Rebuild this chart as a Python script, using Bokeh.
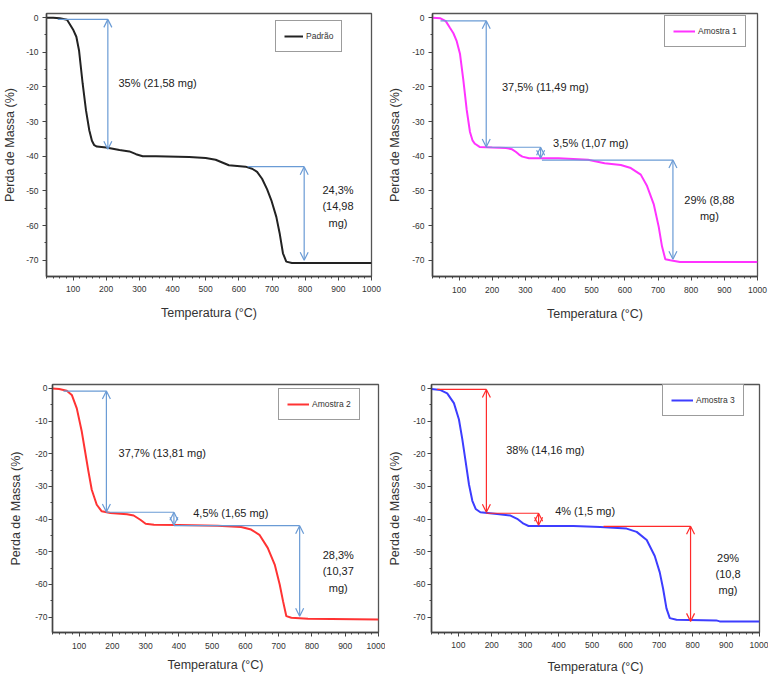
from bokeh.plotting import figure
from bokeh.models import (ColumnDataSource, Arrow, OpenHead, Legend, LegendItem,
                          FixedTicker, Range1d)
from bokeh.layouts import column, row
from bokeh.embed import file_html
from bokeh.resources import INLINE
from bokeh.core.properties import value

FONT = "Liberation Sans"

# ---------------- data ----------------
x_ticks = [100, 200, 300, 400, 500, 600, 700, 800, 900, 1000]
x_tick_labels = ["100", "200", "300", "400", "500", "600", "700", "800", "900", "1000"]
y_ticks = [0, -10, -20, -30, -40, -50, -60, -70]
y_tick_labels = ["0", "-10", "-20", "-30", "-40", "-50", "-60", "-70"]
x_minor = [20, 40, 60, 80, 120, 140, 160, 180, 220, 240, 260, 280, 320, 340, 360, 380,
           420, 440, 460, 480, 520, 540, 560, 580, 620, 640, 660, 680, 720, 740, 760, 780,
           820, 840, 860, 880, 920, 940, 960, 980]
y_minor = [-5, -15, -25, -35, -45, -55, -65, -75]

# Padrão
temp_padrao = [20, 40, 60, 82, 100, 110, 118, 129, 139, 149, 157, 164, 172, 200, 240, 270,
               290, 310, 350, 450, 500, 530, 550, 570, 620, 640, 655, 670, 685, 698, 713,
               723, 733, 743, 760, 1000]
mass_padrao = [0, 0, -0.2, -0.6, -3.4, -5.5, -9.4, -19, -26.7, -32.5, -35.5, -36.8, -37.2,
               -37.5, -38.2, -38.6, -39.4, -40, -40, -40.2, -40.5, -41, -41.8, -42.6, -43,
               -43.6, -44.5, -46.5, -49.5, -52.7, -57.5, -62.2, -68, -70.4, -70.8, -70.8]

# Amostra 1
temp_a1 = [20, 44, 60, 73, 83, 93, 103, 113, 123, 133, 141, 148, 162, 200, 242, 260, 271,
           281, 291, 311, 400, 489, 539, 588, 618, 648, 667, 687, 702, 712, 722, 737, 766, 1000]
mass_a1 = [0, -0.2, -1, -3, -4.5, -6.8, -10.5, -18, -26.5, -33, -35.5, -36.4, -37.3, -37.5,
           -37.6, -38, -38.7, -39.5, -40.1, -40.6, -40.6, -41, -42, -42.5, -43.4, -45.3,
           -48.6, -53.8, -60.3, -66, -69.7, -70, -70.5, -70.5]

# Amostra 2
temp_a2 = [20, 40, 63, 78, 93, 108, 118, 128, 138, 153, 168, 194, 244, 264, 284, 300, 325,
           400, 516, 587, 617, 642, 667, 688, 703, 713, 723, 738, 788, 1000]
mass_a2 = [0, -0.2, -0.7, -2, -6.1, -13.2, -19.3, -25.4, -31, -35.6, -37.6, -38.1, -38.5,
           -38.9, -40.2, -41.4, -41.7, -41.8, -42, -42.4, -43.2, -44.8, -48.8, -53.9, -60,
           -65.1, -69.7, -70.2, -70.5, -70.7]

# Amostra 3
temp_a3 = [20, 47, 67, 87, 102, 112, 122, 132, 142, 152, 166, 216, 256, 276, 295, 310, 444,
           524, 603, 633, 663, 687, 702, 712, 722, 732, 752, 871, 881, 1000]
mass_a3 = [-0.2, -0.5, -1.5, -4.5, -9.5, -15.5, -22.4, -29.4, -34.4, -36.9, -37.9, -38.4,
           -38.9, -39.9, -41.4, -42.1, -42.1, -42.4, -42.9, -43.9, -46.4, -51.3, -56.3,
           -61.3, -67.3, -70.3, -70.8, -71, -71.3, -71.3]

# annotation arrows (vertical double arrows + horizontal guide lines)
p1_arrow_x = [205, 797]
p1_arrow_top = [-0.5, -43]
p1_arrow_bot = [-38, -70]
p1_guide_x0 = [54, 627]
p1_guide_x1 = [205, 797]
p1_guide_y = [-0.5, -43]
p1_text_x = [355, 899]
p1_text_y = [-19, -54.5]
p1_text = ["35% (21,58 mg)", "24,3%\n(14,98\nmg)"]

p2_arrow_x = [182, 346, 745]
p2_arrow_top = [-0.9, -37.4, -41.1]
p2_arrow_bot = [-37.3, -40.6, -69.7]
p2_guide_x0 = [44, 182, 350]
p2_guide_x1 = [182, 346, 745]
p2_guide_y = [-0.9, -37.4, -41.1]
p2_text_x = [360, 497, 855]
p2_text_y = [-19.9, -36.2, -55]
p2_text = ["37,5% (11,49 mg)", "3,5% (1,07 mg)", "29% (8,88\nmg)"]

p3_arrow_x = [182, 385, 763]
p3_arrow_top = [-0.8, -37.9, -42]
p3_arrow_bot = [-37.8, -41.9, -69.7]
p3_guide_x0 = [53, 182, 385]
p3_guide_x1 = [182, 385, 763]
p3_guide_y = [-0.8, -37.9, -42]
p3_text_x = [350, 556, 879]
p3_text_y = [-19.8, -38.1, -56]
p3_text = ["37,7% (13,81 mg)", "4,5% (1,65 mg)", "28,3%\n(10,37\nmg)"]

p4_arrow_x = [184, 340, 794]
p4_arrow_top = [-0.3, -38.2, -42.2]
p4_arrow_bot = [-37.9, -41.9, -71.3]
p4_guide_x0 = [37, 184, 534]
p4_guide_x1 = [184, 340, 794]
p4_guide_y = [-0.3, -38.2, -42.2]
p4_text_x = [360, 479, 906]
p4_text_y = [-18.9, -37.6, -56.8]
p4_text = ["38% (14,16 mg)", "4% (1,5 mg)", "29%\n(10,8\nmg)"]

BLUE_ARROW = "#6a9bd5"
RED_ARROW = "#ff2a2a"


def make_panel(temps, masses, color, name, ax, atop, abot, gx0, gx1, gy, acolor,
               tx, ty, tt, width, height, bl, br, bt, bb, tick_std_x, lab_std_x,
               tick_std_y, lab_std_y, leg_loc, glyph_w):
    p = figure(width=width, height=height, output_backend="svg", toolbar_location=None,
               x_range=Range1d(20, 1000), y_range=Range1d(-74.7, 1.2))
    p.min_border = 0
    p.min_border_left = bl
    p.min_border_right = br
    p.min_border_top = bt
    p.min_border_bottom = bb
    p.xgrid.visible = False
    p.ygrid.visible = False
    p.outline_line_color = "#555555"
    p.outline_line_width = 1.3

    p.xaxis.ticker = FixedTicker(ticks=x_ticks, minor_ticks=x_minor)
    p.yaxis.ticker = FixedTicker(ticks=y_ticks, minor_ticks=y_minor)
    p.xaxis.major_label_overrides = dict(zip(x_ticks, x_tick_labels))
    p.yaxis.major_label_overrides = dict(zip(y_ticks, y_tick_labels))
    p.xaxis.axis_label = "Temperatura (°C)"
    p.yaxis.axis_label = "Perda de Massa (%)"
    for axis in (p.xaxis, p.yaxis):
        axis.axis_line_color = "#444444"
        axis.axis_line_width = 1.5
        axis.major_tick_line_color = "#444444"
        axis.minor_tick_line_color = "#444444"
        axis.major_tick_in = 0
        axis.major_tick_out = 4
        axis.minor_tick_in = 0
        axis.minor_tick_out = 2
        axis.major_label_text_font = FONT
        axis.major_label_text_font_size = "8.5px"
        axis.major_label_text_color = "#333333"
        axis.axis_label_text_font = FONT
        axis.axis_label_text_font_size = "12.5px"
        axis.axis_label_text_font_style = "normal"
        axis.axis_label_text_color = "#333333"
    p.xaxis.major_label_standoff = tick_std_x
    p.xaxis.axis_label_standoff = lab_std_x
    p.yaxis.major_label_standoff = tick_std_y
    p.yaxis.axis_label_standoff = lab_std_y

    r = p.line(temps, masses, line_color=color, line_width=2)

    gsrc = ColumnDataSource(dict(x0=gx0, x1=gx1, y=gy))
    p.segment(x0="x0", y0="y", x1="x1", y1="y", source=gsrc,
              line_color=acolor, line_width=1.2)
    asrc = ColumnDataSource(dict(x=ax, top=atop, bot=abot))
    p.add_layout(Arrow(start=OpenHead(size=8, line_color=acolor, line_width=1.2),
                       end=OpenHead(size=8, line_color=acolor, line_width=1.2),
                       x_start="x", y_start="top", x_end="x", y_end="bot",
                       source=asrc, line_color=acolor, line_width=1.2))

    tsrc = ColumnDataSource(dict(x=tx, y=ty, t=tt))
    p.text(x="x", y="y", text="t", source=tsrc, text_font=value(FONT),
           text_font_size="11px", text_align="center", text_baseline="middle",
           text_color="#222222", text_line_height=1.36)

    leg = Legend(items=[LegendItem(label=name, renderers=[r])], location=leg_loc,
                 margin=0, padding=8, glyph_width=glyph_w, glyph_height=14,
                 label_height=14, label_standoff=3, label_text_font=FONT,
                 label_text_font_size="8.5px", label_text_color="#333333",
                 border_line_color="#3a3a3a", border_line_width=1.5,
                 background_fill_color="white", background_fill_alpha=1.0)
    p.add_layout(leg)
    return p


# panel sizes: width, height, borders (left, right, top, bottom)
p1 = make_panel(temp_padrao, mass_padrao, "#222222", "Padrão",
                p1_arrow_x, p1_arrow_top, p1_arrow_bot, p1_guide_x0, p1_guide_x1, p1_guide_y,
                BLUE_ARROW, p1_text_x, p1_text_y, p1_text,
                385, 350, 46, 14, 13, 74, 5, 11, 4, 6, (229, 224), 19)
p2 = make_panel(temp_a1, mass_a1, "#ff33ff", "Amostra 1",
                p2_arrow_x, p2_arrow_top, p2_arrow_bot, p2_guide_x0, p2_guide_x1, p2_guide_y,
                BLUE_ARROW, p2_text_x, p2_text_y, p2_text,
                383, 350, 42, 11, 7, 73, 6, 11, 4, 7, (232, 229), 22)
p3 = make_panel(temp_a2, mass_a2, "#ff3333", "Amostra 2",
                p3_arrow_x, p3_arrow_top, p3_arrow_bot, p3_guide_x0, p3_guide_x1, p3_guide_y,
                BLUE_ARROW, p3_text_x, p3_text_y, p3_text,
                385, 330, 52, 7, 33, 48, 6, 6, 1, 9, (226, 212), 22)
p4 = make_panel(temp_a3, mass_a3, "#3d3dff", "Amostra 3",
                p4_arrow_x, p4_arrow_top, p4_arrow_bot, p4_guide_x0, p4_guide_x1, p4_guide_y,
                RED_ARROW, p4_text_x, p4_text_y, p4_text,
                383, 330, 44, 9, 34, 42, 5, 9, 2, 8, (231, 216), 22)

layout = column(row(p1, p2), row(p3, p4))
open("out.html", "w").write(file_html(layout, INLINE))
